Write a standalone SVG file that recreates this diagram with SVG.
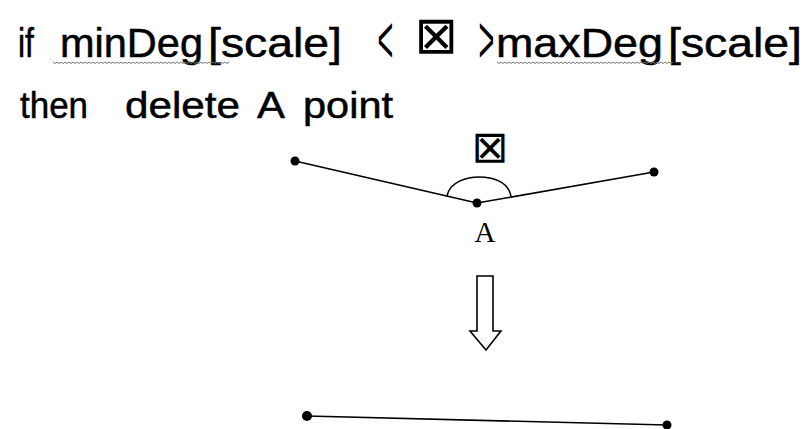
<svg xmlns="http://www.w3.org/2000/svg" width="805" height="429" viewBox="0 0 805 429">
<style>
.t1{font-family:"Liberation Sans",Arial,sans-serif;font-size:40px;fill:#000;stroke:#000;stroke-width:0.5}
.t2{font-family:"Liberation Sans",Arial,sans-serif;font-size:36px;fill:#000;stroke:#000;stroke-width:0.5}
.br{font-family:"Liberation Sans",Arial,sans-serif;font-size:36px;fill:#000}
.sym{font-family:"DejaVu Sans",sans-serif;fill:#000}
.ln{stroke:#000;stroke-width:1.6;fill:none}
.dot{fill:#000}
.sq{stroke:#777;stroke-width:1;fill:none}
</style>
<rect width="805" height="429" fill="#fff"/>
<g id="condition">
<text class="t1" x="18" y="57" textLength="16" lengthAdjust="spacingAndGlyphs">if</text>
<text class="t1" x="60" y="57" textLength="143" lengthAdjust="spacingAndGlyphs">minDeg</text>
<text class="t1" x="208" y="57" textLength="134" lengthAdjust="spacingAndGlyphs">[scale]</text>
<text class="br" transform="translate(385.5,62.5) scale(0.75,1.9)" text-anchor="middle">&lt;</text>
<text class="sym" x="436" y="53" font-size="52" text-anchor="middle">⊠</text>
<text class="br" transform="translate(486.5,62.5) scale(0.75,1.9)" text-anchor="middle">&gt;</text>
<text class="t1" x="496" y="57" textLength="167" lengthAdjust="spacingAndGlyphs">maxDeg</text>
<text class="t1" x="668" y="57" textLength="134" lengthAdjust="spacingAndGlyphs">[scale]</text>
<path class="sq" d="M53 62 l2 1.5 l2 -1.5 l2 1.5 l2 -1.5 l2 1.5 l2 -1.5 l2 1.5 l2 -1.5 l2 1.5 l2 -1.5 l2 1.5 l2 -1.5 l2 1.5 l2 -1.5 l2 1.5 l2 -1.5 l2 1.5 l2 -1.5 l2 1.5 l2 -1.5 l2 1.5 l2 -1.5 l2 1.5 l2 -1.5 l2 1.5 l2 -1.5 l2 1.5 l2 -1.5 l2 1.5 l2 -1.5 l2 1.5 l2 -1.5 l2 1.5 l2 -1.5 l2 1.5 l2 -1.5 l2 1.5 l2 -1.5 l2 1.5 l2 -1.5 l2 1.5 l2 -1.5 l2 1.5 l2 -1.5 l2 1.5 l2 -1.5 l2 1.5 l2 -1.5 l2 1.5 l2 -1.5 l2 1.5 l2 -1.5 l2 1.5 l2 -1.5 l2 1.5 l2 -1.5 l2 1.5 l2 -1.5 l2 1.5 l2 -1.5 l2 1.5 l2 -1.5 l2 1.5 l2 -1.5 l2 1.5 l2 -1.5 l2 1.5 l2 -1.5 l2 1.5 l2 -1.5 l2 1.5 l2 -1.5 l2 1.5 l2 -1.5 l2 1.5 l2 -1.5 l2 1.5 l2 -1.5 l2 1.5 l2 -1.5 l2 1.5 l2 -1.5 l2 1.5 l2 -1.5 l2 1.5 l2 -1.5 l2 1.5 l2 -1.5"/>
<path class="sq" d="M497 62 l2 1.5 l2 -1.5 l2 1.5 l2 -1.5 l2 1.5 l2 -1.5 l2 1.5 l2 -1.5 l2 1.5 l2 -1.5 l2 1.5 l2 -1.5 l2 1.5 l2 -1.5 l2 1.5 l2 -1.5 l2 1.5 l2 -1.5 l2 1.5 l2 -1.5 l2 1.5 l2 -1.5 l2 1.5 l2 -1.5 l2 1.5 l2 -1.5 l2 1.5 l2 -1.5 l2 1.5 l2 -1.5 l2 1.5 l2 -1.5 l2 1.5 l2 -1.5 l2 1.5 l2 -1.5 l2 1.5 l2 -1.5 l2 1.5 l2 -1.5 l2 1.5 l2 -1.5 l2 1.5 l2 -1.5 l2 1.5 l2 -1.5 l2 1.5 l2 -1.5 l2 1.5 l2 -1.5 l2 1.5 l2 -1.5 l2 1.5 l2 -1.5 l2 1.5 l2 -1.5 l2 1.5 l2 -1.5 l2 1.5 l2 -1.5 l2 1.5 l2 -1.5 l2 1.5 l2 -1.5 l2 1.5 l2 -1.5 l2 1.5 l2 -1.5 l2 1.5 l2 -1.5 l2 1.5 l2 -1.5 l2 1.5 l2 -1.5 l2 1.5 l2 -1.5 l2 1.5 l2 -1.5 l2 1.5 l2 -1.5 l2 1.5 l2 -1.5 l2 1.5 l2 -1.5 l2 1.5 l2 -1.5 l2 1.5 l2 -1.5"/>
</g>
<g id="action">
<text class="t2" x="20" y="118" textLength="68" lengthAdjust="spacingAndGlyphs">then</text>
<text class="t2" x="125" y="118" textLength="115" lengthAdjust="spacingAndGlyphs">delete</text>
<text class="t2" x="257" y="118" textLength="28" lengthAdjust="spacingAndGlyphs">A</text>
<text class="t2" x="303" y="118" textLength="90" lengthAdjust="spacingAndGlyphs">point</text>
</g>
<g id="before">
<g id="connectors-before">
<line class="ln" x1="295" y1="161" x2="477" y2="203"/>
<line class="ln" x1="477" y1="203" x2="654" y2="172"/>
<path class="ln" d="M447 196 C450 181 468 177 479 177 C492 177 508 181 511 196"/>
</g>
<g id="point-left"><circle class="dot" cx="295" cy="161" r="4.5"/></g>
<g id="point-A"><circle class="dot" cx="477" cy="203" r="4.5"/></g>
<g id="point-right"><circle class="dot" cx="654" cy="172" r="4.5"/></g>
<text class="sym" x="490" y="162" font-size="44" text-anchor="middle">⊠</text>
<text x="485" y="242" font-family="'Liberation Serif','Times New Roman',serif" font-size="29" text-anchor="middle" fill="#000">A</text>
</g>
<g id="arrow">
<polygon points="477,276 493,276 493,331 501,331 486,350 470,331 477,331" fill="#fff" stroke="#000" stroke-width="1.6" stroke-linejoin="miter"/>
</g>
<g id="after">
<g id="connectors-after">
<line class="ln" x1="307" y1="416" x2="667" y2="425" stroke-width="2"/>
</g>
<g id="point-start"><circle class="dot" cx="307" cy="416" r="5"/></g>
<g id="point-end"><circle class="dot" cx="667" cy="425" r="4.5"/></g>
</g>
</svg>
